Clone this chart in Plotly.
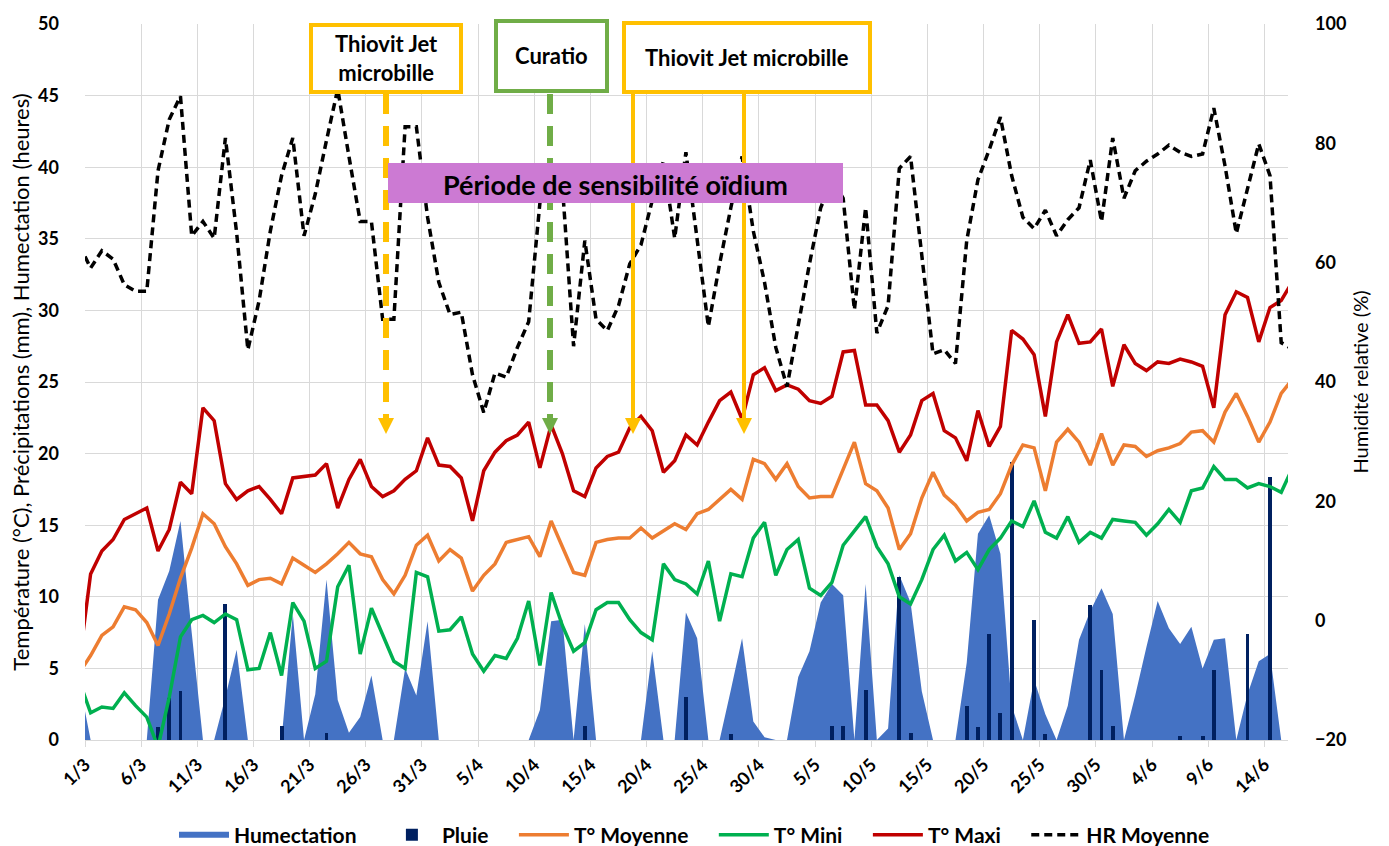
import pandas as pd
import plotly.graph_objects as go

# one value per day, from 28/2 to 17/6 (both ends are cut by the axis range)
dates = pd.date_range("2021-02-28 12:00", periods=109, freq="D")

humectation = [
    4.0, 0, 0, 0, 0, 0, 0, 9.8, 11.8, 15.3,
    7.5, 0, 0, 3.0, 6.3, 0, 0, 0, 0, 8.8,
    0, 3.2, 11.2, 2.8, 0.5, 1.6, 4.5, 0, 0, 5.0,
    3.1, 8.3, 0, 0, 0, 0, 0, 0, 0, 0,
    0, 2.1, 8.3, 8.4, 0, 8.1, 0, 0, 0, 0,
    0, 6.2, 0, 0, 8.9, 7.1, 0, 0, 3.5, 7.1,
    1.3, 0.2, 0, 0, 4.4, 6.2, 9.6, 10.9, 10.1, 0,
    10.9, 0, 0.8, 11.5, 9.6, 3.4, 0, 0, 0, 5.4,
    14.4, 15.7, 13.0, 2.4, 0, 4.2, 1.8, 0, 2.4, 7.0,
    9.0, 10.6, 8.8, 0, 3.1, 6.5, 9.7, 7.8, 6.7, 7.9,
    5.0, 7.0, 7.1, 0, 3.2, 5.5, 6.0, 0, 0,
]
pluie = [
    0, 0, 0, 0, 0, 0, 0, 0.9, 2.9, 3.4,
    0, 0, 0, 9.5, 0, 0, 0, 0, 1.0, 0,
    0, 0, 0.5, 0, 0, 0, 0, 0, 0, 0,
    0, 0, 0, 0, 0, 0, 0, 0, 0, 0,
    0, 0, 0, 0, 0, 1.0, 0, 0, 0, 0,
    0, 0, 0, 0, 3.0, 0, 0, 0, 0.4, 0,
    0, 0, 0, 0, 0, 0, 0, 1.0, 1.0, 0,
    3.5, 0, 0, 11.4, 0.5, 0, 0, 0, 0, 2.4,
    0.9, 7.4, 1.9, 19.4, 0, 8.4, 0.4, 0, 0, 0,
    9.4, 4.9, 1.0, 0, 0, 0, 0, 0, 0.3, 0,
    0.3, 4.9, 0, 0, 7.4, 0, 18.4, 0, 0,
]
t_moy = [
    4.7, 5.9, 7.3, 7.9, 9.3, 9.1, 8.2, 6.6, 8.8, 11.3,
    13.4, 15.8, 15.1, 13.5, 12.3, 10.8, 11.2, 11.3, 10.9, 12.7,
    12.2, 11.7, 12.3, 13.0, 13.8, 13.0, 12.8, 11.2, 10.2, 11.5,
    13.6, 14.3, 12.5, 13.3, 12.7, 10.4, 11.5, 12.3, 13.8, 14.0,
    14.2, 12.8, 15.3, 13.5, 11.7, 11.5, 13.8, 14.0, 14.1, 14.1,
    14.8, 14.1, 14.6, 15.1, 14.7, 15.8, 16.1, 16.8, 17.5, 16.8,
    19.6, 19.3, 18.2, 19.3, 17.7, 16.9, 17.0, 17.0, 18.9, 20.8,
    17.9, 17.4, 16.2, 13.3, 14.4, 16.9, 18.7, 17.1, 16.4, 15.3,
    15.9, 16.1, 17.2, 19.2, 20.6, 20.4, 17.4, 20.8, 21.7, 20.8,
    19.2, 21.4, 19.2, 20.6, 20.5, 19.8, 20.2, 20.4, 20.7, 21.5,
    21.6, 20.8, 22.9, 24.2, 22.6, 20.8, 22.2, 24.2, 25.2,
]
t_min = [
    4.1, 1.9, 2.3, 2.2, 3.3, 2.4, 1.6, -0.5, 3.0, 7.2,
    8.4, 8.7, 8.2, 8.8, 8.4, 4.9, 5.0, 7.5, 4.5, 9.6,
    8.3, 5.0, 5.5, 10.7, 12.2, 6.0, 9.2, 7.3, 5.5, 5.0,
    11.7, 11.4, 7.6, 7.7, 8.6, 6.0, 4.8, 5.9, 5.7, 7.1,
    9.7, 5.2, 10.3, 8.0, 6.2, 6.8, 9.1, 9.6, 9.6, 8.4,
    7.5, 7.0, 12.3, 11.2, 10.9, 10.2, 12.5, 8.3, 11.6, 11.4,
    14.1, 15.2, 11.5, 13.3, 14.0, 10.6, 10.1, 11.0, 13.6, 14.6,
    15.6, 13.5, 12.3, 10.0, 9.5, 11.2, 13.3, 14.3, 12.5, 13.1,
    11.9, 13.3, 14.1, 15.3, 14.9, 16.7, 14.5, 14.1, 15.6, 13.8,
    14.5, 14.1, 15.4, 15.3, 15.2, 14.3, 15.1, 16.1, 15.2, 17.4,
    17.6, 19.1, 18.2, 18.2, 17.6, 17.9, 17.7, 17.3, 19.0,
]
t_max = [
    5.5, 11.6, 13.2, 14.0, 15.4, 15.8, 16.2, 13.2, 14.7, 18.0,
    17.2, 23.2, 22.3, 17.9, 16.8, 17.4, 17.7, 16.8, 15.8, 18.3,
    18.4, 18.5, 19.3, 16.2, 18.2, 19.6, 17.7, 17.0, 17.4, 18.2,
    18.8, 21.1, 19.2, 19.1, 18.3, 15.3, 18.8, 20.1, 20.9, 21.3,
    22.2, 19.0, 22.0, 20.0, 17.4, 17.0, 19.0, 19.8, 20.1, 21.8,
    22.6, 21.6, 18.7, 19.5, 21.3, 20.6, 22.2, 23.7, 24.3, 22.4,
    25.5, 26.0, 24.4, 24.8, 24.5, 23.7, 23.5, 24.0, 27.1, 27.2,
    23.4, 23.4, 22.3, 20.1, 21.3, 23.7, 24.2, 21.6, 21.1, 19.5,
    23.0, 20.5, 21.9, 28.6, 28.0, 26.9, 22.6, 27.8, 29.7, 27.7,
    27.8, 28.7, 24.7, 27.6, 26.3, 25.8, 26.4, 26.3, 26.6, 26.4,
    26.1, 23.2, 29.7, 31.3, 30.9, 27.8, 30.2, 30.7, 32.0,
]
hr_moy = [
    63.0, 59.1, 62.0, 60.6, 56.3, 55.2, 55.2, 75.4, 84.0, 87.9,
    64.5, 66.9, 64.1, 80.9, 65.0, 45.4, 53.6, 65.3, 74.6, 80.9,
    64.5, 71.5, 80.5, 89.1, 77.8, 66.9, 66.9, 50.5, 50.5, 82.8,
    82.8, 67.6, 56.7, 51.3, 51.7, 41.2, 34.9, 41.5, 40.8, 45.8,
    50.1, 70.0, 76.0, 73.0, 46.0, 63.7, 50.5, 48.6, 52.8, 59.8,
    63.0, 70.4, 77.0, 64.1, 78.5, 64.0, 49.3, 59.8, 69.2, 77.8,
    65.3, 56.7, 45.8, 39.2, 49.7, 59.8, 69.2, 73.9, 70.8, 52.1,
    69.2, 48.2, 52.8, 75.8, 77.8, 61.4, 44.7, 45.4, 43.1, 63.7,
    73.9, 78.9, 84.4, 74.6, 67.6, 65.7, 68.8, 64.5, 67.2, 69.2,
    77.2, 66.9, 80.9, 70.8, 75.4, 77.0, 78.2, 79.7, 78.5, 77.8,
    78.2, 85.9, 76.2, 64.9, 72.3, 79.9, 74.6, 46.6, 45.5,
]

FONT = "Lato"
DAY = 86400000
GRID = "#D9D9D9"
YELLOW = "#FFC000"
GREEN = "#70AD47"
PAD = "\u00a0" * 4  # extra room after each legend entry

# plot area in page pixels, used to place the boxes and arrows
L, R, T, B = 85, 1288, 24, 740


def px(x):
    return (x - L) / (R - L)


def py(y):
    return (B - y) / (B - T)


fig = go.Figure()
fig.add_trace(go.Scatter(x=dates, y=humectation, name="Humectation" + PAD, mode="none",
                         fill="tozeroy", fillcolor="#4472C4", yaxis="y"))
fig.add_trace(go.Bar(x=dates, y=pluie, name="Pluie" + PAD, marker_color="#002060",
                     marker_line_width=0, width=0.35 * DAY, yaxis="y2"))
fig.add_trace(go.Scatter(x=dates, y=t_moy, name="T° Moyenne" + PAD, mode="lines",
                         line=dict(color="#ED7D31", width=3.5), yaxis="y2"))
fig.add_trace(go.Scatter(x=dates, y=t_min, name="T° Mini" + PAD, mode="lines",
                         line=dict(color="#00B050", width=3.5), yaxis="y2"))
fig.add_trace(go.Scatter(x=dates, y=t_max, name="T° Maxi" + PAD, mode="lines",
                         line=dict(color="#C00000", width=3.5), yaxis="y2"))
fig.add_trace(go.Scatter(x=dates, y=hr_moy, name="HR Moyenne", mode="lines",
                         line=dict(color="black", width=3.5, dash="8px,5px"), yaxis="y3"))

shapes = []
annotations = []

# treatment boxes
boxes = [
    (311, 461, 25, 92, YELLOW, "Thiovit Jet<br>microbille"),
    (496, 607, 21, 91, GREEN, "Curatio"),
    (624, 870, 23, 92, YELLOW, "Thiovit Jet microbille"),
]
for x0, x1, y0, y1, col, txt in boxes:
    shapes.append(dict(type="rect", xref="paper", yref="paper",
                       x0=px(x0), x1=px(x1), y0=py(y1), y1=py(y0),
                       line=dict(color=col, width=4), fillcolor="white"))
    annotations.append(dict(text=txt, xref="paper", yref="paper",
                            x=px((x0 + x1) / 2), y=py((y0 + y1) / 2),
                            xanchor="center", yanchor="middle", showarrow=False,
                            font=dict(family=FONT, size=22, color="black", weight="bold")))

# arrows from the boxes down to the date of treatment
arrows = [
    (386, YELLOW, 6, "20px,12px"),
    (550, GREEN, 6, "20px,12px"),
    (633, YELLOW, 4, "solid"),
    (744, YELLOW, 4, "solid"),
]
for x, col, w, dash in arrows:
    shapes.append(dict(type="line", xref="paper", yref="paper",
                       x0=px(x), x1=px(x), y0=py(94), y1=py(419),
                       line=dict(color=col, width=w, dash=dash)))
    shapes.append(dict(type="path", xref="paper", yref="paper",
                       path="M {} {} L {} {} L {} {} Z".format(px(x - 8), py(418), px(x + 8), py(418), px(x), py(434)),
                       fillcolor=col, line=dict(width=0)))

# sensitivity period banner
shapes.append(dict(type="rect", xref="paper", yref="paper",
                   x0=px(388), x1=px(843), y0=py(203), y1=py(163),
                   fillcolor="#CC7AD3", line=dict(width=0)))
annotations.append(dict(text="Période de sensibilité oïdium", xref="paper", yref="paper",
                        x=px(615), y=py(184), xanchor="center", yanchor="middle", showarrow=False,
                        font=dict(family=FONT, size=27, color="black", weight="bold")))

tickfont = dict(family=FONT, size=18, color="black", weight="bold")

fig.update_layout(
    width=1389, height=846,
    margin=dict(l=L, r=1389 - R, t=T, b=846 - B),
    plot_bgcolor="white", paper_bgcolor="white",
    showlegend=True,
    legend=dict(orientation="h", xref="container", yref="container",
                x=0.5, xanchor="center", y=0.013, yanchor="middle",
                font=dict(family=FONT, size=21, color="black", weight="bold"),
                itemwidth=50, traceorder="normal"),
    xaxis=dict(type="date", range=["2021-03-01", "2021-06-16 02:30"],
               tick0="2021-03-01", dtick=5 * DAY, tickformat="%-d/%-m",
               tickangle=-45, tickfont=tickfont,
               showgrid=True, gridcolor=GRID, gridwidth=1.3,
               ticks="outside", ticklen=6, tickcolor=GRID,
               showline=True, linecolor=GRID, linewidth=1.3, automargin=False),
    yaxis=dict(range=[0, 50], dtick=5, tickfont=tickfont,
               showgrid=True, gridcolor=GRID, gridwidth=1.3, zeroline=False,
               ticklabelstandoff=25, automargin=False,
               title=dict(text="Température (°C), Précipitations (mm), Humectation (heures)",
                          font=dict(family=FONT, size=22, color="black"), standoff=2)),
    yaxis2=dict(range=[0, 50], overlaying="y", visible=False),
    yaxis3=dict(range=[-20, 100], dtick=20, overlaying="y", side="right",
                tickfont=tickfont, showgrid=False, zeroline=False,
                ticklabelstandoff=26, automargin=False,
                title=dict(text="Humidité relative (%)",
                           font=dict(family=FONT, size=20, color="black"), standoff=8)),
    shapes=shapes,
    annotations=annotations,
    bargap=0,
)

fig.write_html("out.html", config={"displayModeBar": False},
               post_script="document.body.style.margin='0';")
